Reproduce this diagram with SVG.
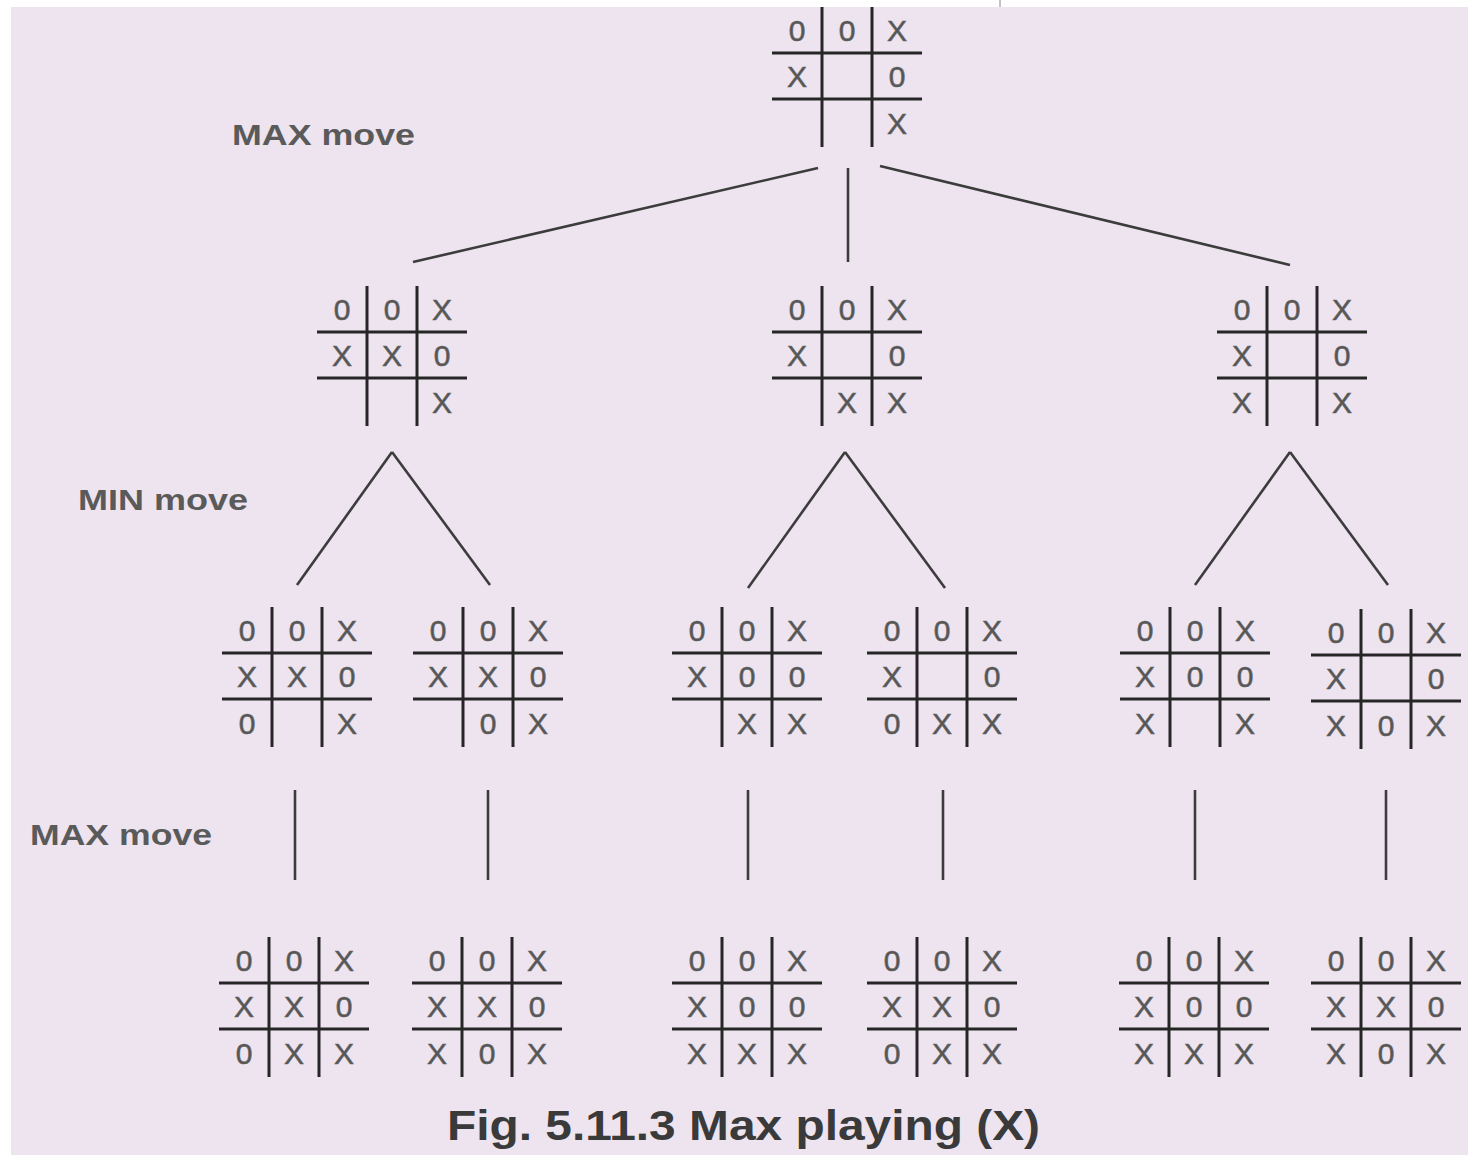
<svg xmlns="http://www.w3.org/2000/svg" xmlns:xlink="http://www.w3.org/1999/xlink" width="1468" height="1162" viewBox="0 0 1468 1162">
<style>
.bg{fill:#ede4ef}
.grid line{stroke:#262626;stroke-width:3}
.cell{font-family:"Liberation Sans",Arial,sans-serif;font-size:30px;fill:#555555;text-anchor:middle;stroke:#666;stroke-width:0.6}
.conn line{stroke:#3c3c3c;stroke-width:2.6}
.lbl{font-family:"Liberation Sans",Arial,sans-serif;font-size:29px;fill:#5a5a5a;font-weight:bold}
.cap{font-family:"Liberation Sans",Arial,sans-serif;font-size:42px;font-weight:bold;fill:#3a3a3a}
</style>
<defs>
<g id="grid" class="grid">
<line x1="0" y1="46" x2="150" y2="46"/>
<line x1="0" y1="92" x2="150" y2="92"/>
<line x1="50" y1="0" x2="50" y2="140"/>
<line x1="100" y1="0" x2="100" y2="140"/>
</g>
</defs>
<rect x="0" y="0" width="1468" height="1162" fill="#ffffff"/>
<rect class="bg" x="11" y="7" width="1457" height="1148"/>
<line x1="1000" y1="0" x2="1000" y2="7" stroke="#888" stroke-width="1"/>

<g id="connectors" class="conn">
<line x1="818" y1="168" x2="413" y2="262"/>
<line x1="848" y1="168" x2="848" y2="262"/>
<line x1="880" y1="166" x2="1290" y2="265"/>
<line x1="392" y1="452" x2="297" y2="585"/>
<line x1="392" y1="452" x2="490" y2="585"/>
<line x1="845" y1="452" x2="748" y2="588"/>
<line x1="845" y1="452" x2="945" y2="588"/>
<line x1="1290" y1="452" x2="1195" y2="585"/>
<line x1="1290" y1="452" x2="1388" y2="585"/>
<line x1="295" y1="790" x2="295" y2="880"/>
<line x1="488" y1="790" x2="488" y2="880"/>
<line x1="748" y1="790" x2="748" y2="880"/>
<line x1="943" y1="790" x2="943" y2="880" stroke-width="1.8"/>
<line x1="1195" y1="790" x2="1195" y2="880"/>
<line x1="1386" y1="790" x2="1386" y2="880"/>
</g>

<g id="root" transform="translate(772,7)">
<use href="#grid"/>
<text class="cell" x="25" y="34">0</text><text class="cell" x="75" y="34">0</text><text class="cell" x="125" y="34">X</text>
<text class="cell" x="25" y="80">X</text><text class="cell" x="125" y="80">0</text>
<text class="cell" x="125" y="127">X</text>
</g>

<g id="l1a" transform="translate(317,286)">
<use href="#grid"/>
<text class="cell" x="25" y="34">0</text><text class="cell" x="75" y="34">0</text><text class="cell" x="125" y="34">X</text>
<text class="cell" x="25" y="80">X</text><text class="cell" x="75" y="80">X</text><text class="cell" x="125" y="80">0</text>
<text class="cell" x="125" y="127">X</text>
</g>
<g id="l1b" transform="translate(772,286)">
<use href="#grid"/>
<text class="cell" x="25" y="34">0</text><text class="cell" x="75" y="34">0</text><text class="cell" x="125" y="34">X</text>
<text class="cell" x="25" y="80">X</text><text class="cell" x="125" y="80">0</text>
<text class="cell" x="75" y="127">X</text><text class="cell" x="125" y="127">X</text>
</g>
<g id="l1c" transform="translate(1217,286)">
<use href="#grid"/>
<text class="cell" x="25" y="34">0</text><text class="cell" x="75" y="34">0</text><text class="cell" x="125" y="34">X</text>
<text class="cell" x="25" y="80">X</text><text class="cell" x="125" y="80">0</text>
<text class="cell" x="25" y="127">X</text><text class="cell" x="125" y="127">X</text>
</g>

<g id="l2a" transform="translate(222,607)">
<use href="#grid"/>
<text class="cell" x="25" y="34">0</text><text class="cell" x="75" y="34">0</text><text class="cell" x="125" y="34">X</text>
<text class="cell" x="25" y="80">X</text><text class="cell" x="75" y="80">X</text><text class="cell" x="125" y="80">0</text>
<text class="cell" x="25" y="127">0</text><text class="cell" x="125" y="127">X</text>
</g>
<g id="l2b" transform="translate(413,607)">
<use href="#grid"/>
<text class="cell" x="25" y="34">0</text><text class="cell" x="75" y="34">0</text><text class="cell" x="125" y="34">X</text>
<text class="cell" x="25" y="80">X</text><text class="cell" x="75" y="80">X</text><text class="cell" x="125" y="80">0</text>
<text class="cell" x="75" y="127">0</text><text class="cell" x="125" y="127">X</text>
</g>
<g id="l2c" transform="translate(672,607)">
<use href="#grid"/>
<text class="cell" x="25" y="34">0</text><text class="cell" x="75" y="34">0</text><text class="cell" x="125" y="34">X</text>
<text class="cell" x="25" y="80">X</text><text class="cell" x="75" y="80">0</text><text class="cell" x="125" y="80">0</text>
<text class="cell" x="75" y="127">X</text><text class="cell" x="125" y="127">X</text>
</g>
<g id="l2d" transform="translate(867,607)">
<use href="#grid"/>
<text class="cell" x="25" y="34">0</text><text class="cell" x="75" y="34">0</text><text class="cell" x="125" y="34">X</text>
<text class="cell" x="25" y="80">X</text><text class="cell" x="125" y="80">0</text>
<text class="cell" x="25" y="127">0</text><text class="cell" x="75" y="127">X</text><text class="cell" x="125" y="127">X</text>
</g>
<g id="l2e" transform="translate(1120,607)">
<use href="#grid"/>
<text class="cell" x="25" y="34">0</text><text class="cell" x="75" y="34">0</text><text class="cell" x="125" y="34">X</text>
<text class="cell" x="25" y="80">X</text><text class="cell" x="75" y="80">0</text><text class="cell" x="125" y="80">0</text>
<text class="cell" x="25" y="127">X</text><text class="cell" x="125" y="127">X</text>
</g>
<g id="l2f" transform="translate(1311,609)">
<use href="#grid"/>
<text class="cell" x="25" y="34">0</text><text class="cell" x="75" y="34">0</text><text class="cell" x="125" y="34">X</text>
<text class="cell" x="25" y="80">X</text><text class="cell" x="125" y="80">0</text>
<text class="cell" x="25" y="127">X</text><text class="cell" x="75" y="127">0</text><text class="cell" x="125" y="127">X</text>
</g>

<g id="l3g" transform="translate(219,937)">
<use href="#grid"/>
<text class="cell" x="25" y="34">0</text><text class="cell" x="75" y="34">0</text><text class="cell" x="125" y="34">X</text>
<text class="cell" x="25" y="80">X</text><text class="cell" x="75" y="80">X</text><text class="cell" x="125" y="80">0</text>
<text class="cell" x="25" y="127">0</text><text class="cell" x="75" y="127">X</text><text class="cell" x="125" y="127">X</text>
</g>
<g id="l3h" transform="translate(412,937)">
<use href="#grid"/>
<text class="cell" x="25" y="34">0</text><text class="cell" x="75" y="34">0</text><text class="cell" x="125" y="34">X</text>
<text class="cell" x="25" y="80">X</text><text class="cell" x="75" y="80">X</text><text class="cell" x="125" y="80">0</text>
<text class="cell" x="25" y="127">X</text><text class="cell" x="75" y="127">0</text><text class="cell" x="125" y="127">X</text>
</g>
<g id="l3i" transform="translate(672,937)">
<use href="#grid"/>
<text class="cell" x="25" y="34">0</text><text class="cell" x="75" y="34">0</text><text class="cell" x="125" y="34">X</text>
<text class="cell" x="25" y="80">X</text><text class="cell" x="75" y="80">0</text><text class="cell" x="125" y="80">0</text>
<text class="cell" x="25" y="127">X</text><text class="cell" x="75" y="127">X</text><text class="cell" x="125" y="127">X</text>
</g>
<g id="l3j" transform="translate(867,937)">
<use href="#grid"/>
<text class="cell" x="25" y="34">0</text><text class="cell" x="75" y="34">0</text><text class="cell" x="125" y="34">X</text>
<text class="cell" x="25" y="80">X</text><text class="cell" x="75" y="80">X</text><text class="cell" x="125" y="80">0</text>
<text class="cell" x="25" y="127">0</text><text class="cell" x="75" y="127">X</text><text class="cell" x="125" y="127">X</text>
</g>
<g id="l3k" transform="translate(1119,937)">
<use href="#grid"/>
<text class="cell" x="25" y="34">0</text><text class="cell" x="75" y="34">0</text><text class="cell" x="125" y="34">X</text>
<text class="cell" x="25" y="80">X</text><text class="cell" x="75" y="80">0</text><text class="cell" x="125" y="80">0</text>
<text class="cell" x="25" y="127">X</text><text class="cell" x="75" y="127">X</text><text class="cell" x="125" y="127">X</text>
</g>
<g id="l3l" transform="translate(1311,937)">
<use href="#grid"/>
<text class="cell" x="25" y="34">0</text><text class="cell" x="75" y="34">0</text><text class="cell" x="125" y="34">X</text>
<text class="cell" x="25" y="80">X</text><text class="cell" x="75" y="80">X</text><text class="cell" x="125" y="80">0</text>
<text class="cell" x="25" y="127">X</text><text class="cell" x="75" y="127">0</text><text class="cell" x="125" y="127">X</text>
</g>

<g id="labels">
<text class="lbl" x="232" y="145" textLength="183" lengthAdjust="spacingAndGlyphs">MAX move</text>
<text class="lbl" x="78" y="510" textLength="170" lengthAdjust="spacingAndGlyphs">MIN move</text>
<text class="lbl" x="30" y="845" textLength="182" lengthAdjust="spacingAndGlyphs">MAX move</text>
<text class="cap" x="447" y="1140" textLength="593" lengthAdjust="spacingAndGlyphs">Fig. 5.11.3 Max playing (X)</text>
</g>
</svg>
